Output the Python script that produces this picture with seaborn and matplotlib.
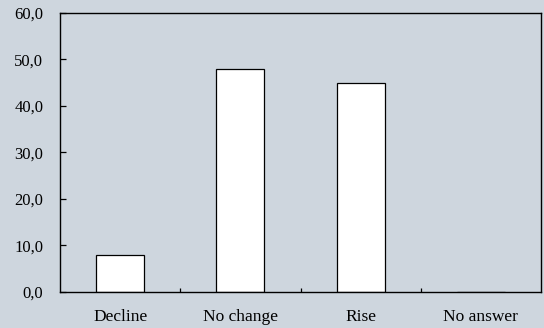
import matplotlib
matplotlib.use("Agg")
import matplotlib.pyplot as plt
import seaborn as sns
import pandas as pd
from matplotlib.ticker import FuncFormatter

categories = ["Decline", "No change", "Rise", "No answer"]
shares = [8.0, 48.0, 45.0, 0.0]
yticks = [0, 10, 20, 30, 40, 50, 60]

sns.set_theme(style="white")
plt.rcParams["font.family"] = ["Liberation Serif", "DejaVu Serif"]

bg = "#CED6DE"
fig = plt.figure(figsize=(5.44, 3.28), dpi=100, facecolor=bg)
ax = fig.add_axes([0.1103, 0.1098, 0.8842, 0.8506])
ax.set_facecolor(bg)

df = pd.DataFrame({"category": categories, "share": shares})
sns.barplot(data=df, x="category", y="share", color="white", width=0.4,
            edgecolor="black", linewidth=0.9, saturation=1, ax=ax)

ax.set_xlim(-0.5, len(categories) - 0.5)
ax.set_ylim(0, 60)
ax.set_yticks(yticks)
ax.yaxis.set_major_formatter(FuncFormatter(lambda v, p: f"{v:.1f}".replace(".", ",")))
ax.set_xlabel("")
ax.set_ylabel("")

# category separators as small inward ticks
ax.set_xticks([i + 0.5 for i in range(len(categories) - 1)], minor=True)
ax.tick_params(axis="x", which="major", length=0, pad=12.5, labelsize=12.5, colors="black")
ax.tick_params(axis="x", which="minor", direction="in", length=3, width=0.9, color="black", bottom=True)
ax.tick_params(axis="y", which="major", direction="in", length=4, width=0.9, pad=12,
               labelsize=12, colors="black", left=True)

for s in ax.spines.values():
    s.set_visible(True)
    s.set_color("black")
    s.set_linewidth(1.0)

fig.savefig("out.png", dpi=100, facecolor=bg)
